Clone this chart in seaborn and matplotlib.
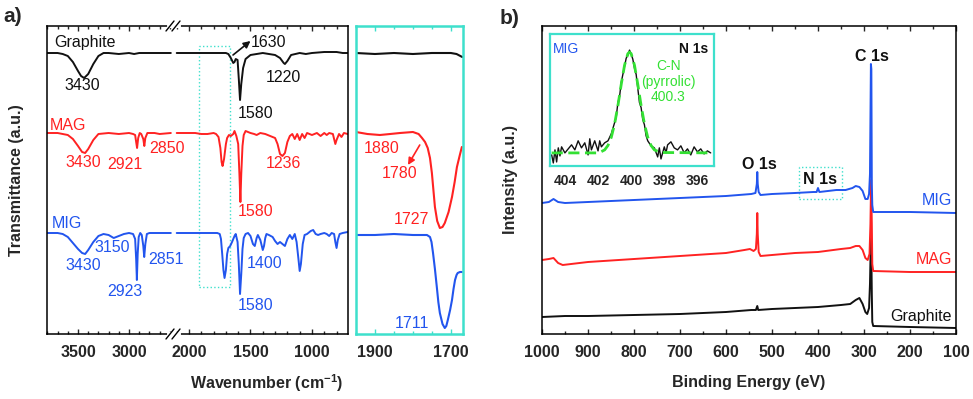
import matplotlib
matplotlib.use("Agg")
import matplotlib.pyplot as plt
import seaborn as sns
from matplotlib.lines import Line2D
from matplotlib.patches import Rectangle
from matplotlib.ticker import MultipleLocator, FixedLocator

# ---------------- FTIR (panel a), wavenumber in cm-1, offset transmittance (a.u.) ----------------
# left segment of the broken axis (3800-2560)
graphite_l_wn = [3800, 3700, 3650, 3600, 3550, 3500, 3470, 3440, 3400, 3350, 3300, 3250, 3200, 3100, 3000, 2950, 2900, 2800, 2700, 2590]
graphite_l_t = [281, 281, 280, 278, 272, 263, 258, 256, 260, 270, 278, 281, 281, 280, 281, 280, 281, 281, 281, 281]
mag_l_wn = [3800, 3700, 3650, 3600, 3550, 3500, 3460, 3430, 3400, 3350, 3300, 3200, 3100, 3000, 2960, 2940, 2930, 2921, 2910, 2895, 2880, 2860, 2850, 2840, 2820, 2750, 2700, 2590]
mag_l_t = [201, 201, 200, 199, 195, 188, 182, 181, 185, 194, 200, 201, 200, 201, 200, 199, 192, 186, 196, 201, 200, 195, 188, 196, 201, 201, 200, 201]
mig_l_wn = [3800, 3700, 3650, 3600, 3550, 3500, 3460, 3430, 3400, 3350, 3300, 3250, 3200, 3150, 3100, 3050, 3000, 2960, 2940, 2930, 2923, 2915, 2905, 2890, 2875, 2860, 2851, 2840, 2825, 2800, 2700, 2590]
mig_l_t = [101, 101, 100, 97, 91, 85, 81, 80, 84, 92, 98, 100, 99, 96, 98, 100, 101, 100, 95, 75, 54, 80, 97, 101, 99, 88, 77, 90, 100, 101, 101, 101]

# right segment of the broken axis (2100-710)
graphite_r_wn = [2100, 2000, 1900, 1800, 1700, 1680, 1660, 1640, 1630, 1620, 1605, 1595, 1585, 1575, 1560, 1540, 1500, 1450, 1400, 1350, 1300, 1260, 1230, 1220, 1200, 1170, 1100, 1050, 1000, 900, 800, 750, 710]
graphite_r_t = [281, 281, 281, 281, 281, 280, 276, 271, 272, 275, 274, 255, 234, 250, 266, 275, 279, 280, 281, 280, 279, 276, 271, 270, 273, 279, 281, 280, 281, 282, 282, 281, 281]
mag_r_wn = [2100, 2000, 1950, 1900, 1850, 1800, 1780, 1760, 1745, 1735, 1727, 1715, 1700, 1690, 1675, 1660, 1640, 1630, 1615, 1600, 1590, 1582, 1575, 1565, 1555, 1540, 1500, 1470, 1450, 1420, 1380, 1340, 1300, 1280, 1260, 1240, 1220, 1200, 1180, 1160, 1140, 1120, 1100, 1080, 1060, 1040, 1000, 960, 930, 900, 880, 860, 830, 810, 800, 780, 760, 740, 710]
mag_r_t = [201, 201, 201, 200, 200, 201, 200, 197, 186, 172, 168, 175, 190, 196, 199, 198, 200, 203, 198, 190, 160, 132, 160, 188, 199, 203, 201, 200, 199, 201, 200, 198, 196, 190, 180, 178, 181, 192, 198, 200, 195, 200, 194, 200, 196, 201, 199, 201, 198, 201, 199, 201, 200, 190, 194, 200, 197, 201, 200]
mig_r_wn = [2100, 2000, 1900, 1800, 1770, 1750, 1740, 1730, 1720, 1711, 1700, 1690, 1680, 1665, 1650, 1630, 1620, 1605, 1595, 1585, 1575, 1565, 1555, 1540, 1520, 1500, 1480, 1465, 1450, 1440, 1420, 1400, 1390, 1380, 1370, 1350, 1320, 1300, 1280, 1260, 1240, 1220, 1200, 1180, 1160, 1140, 1125, 1110, 1100, 1090, 1075, 1060, 1040, 1010, 990, 970, 950, 930, 900, 880, 860, 840, 820, 810, 800, 790, 775, 750, 710]
mig_r_t = [101, 101, 101, 101, 101, 100, 95, 80, 64, 56, 64, 80, 86, 88, 92, 98, 100, 92, 70, 40, 60, 85, 96, 100, 101, 98, 90, 88, 96, 99, 94, 84, 88, 96, 100, 99, 97, 93, 90, 92, 90, 88, 95, 99, 95, 100, 92, 75, 63, 70, 90, 99, 100, 103, 104, 100, 99, 100, 101, 100, 98, 101, 100, 92, 86, 94, 100, 101, 102]

# zoomed C=O region (1950-1668)
zoom_graphite_wn = [1950, 1900, 1850, 1800, 1750, 1700, 1685, 1675, 1670]
zoom_graphite_t = [281, 280, 281, 280, 281, 281, 280, 278, 277]
zoom_mag_wn = [1950, 1920, 1887, 1860, 1834, 1800, 1785, 1776, 1768, 1761, 1755, 1750, 1746, 1742, 1736, 1729, 1722, 1716, 1706, 1697, 1690, 1684, 1677, 1671]
zoom_mag_t = [202, 200, 199, 200, 201, 202, 200, 196, 192, 186, 176, 161, 144, 127, 113, 106, 107, 111, 122, 137, 152, 167, 178, 187]
zoom_mig_wn = [1950, 1900, 1850, 1800, 1780, 1763, 1755, 1751, 1747, 1742, 1737, 1733, 1729, 1722, 1716, 1712, 1708, 1702, 1697, 1693, 1689, 1685, 1682, 1676, 1671]
zoom_mig_t = [99, 99, 100, 99, 99, 99, 97, 92, 81, 65, 47, 32, 21, 10, 6, 8, 14, 24, 34, 45, 54, 59, 61, 62, 62]

# ---------------- XPS survey (panel b), binding energy in eV, offset intensity (a.u.) ----------------
mig_be = [1000, 985, 975, 965, 950, 900, 800, 700, 600, 545, 536, 533, 532, 531, 529, 525, 500, 450, 410, 403, 400, 397, 360, 340, 325, 318, 310, 303, 297, 292, 289, 287, 285, 284, 283, 282, 280, 250, 200, 100]
mig_int = [131, 132, 135, 132, 131, 132, 134, 136, 138, 140, 141, 150, 162, 150, 142, 139, 140, 141, 142, 142, 146, 142, 144, 144, 146, 148, 147, 143, 135, 135, 140, 160, 270, 265, 150, 129, 122, 122, 122, 121]
mag_be = [1000, 985, 975, 965, 955, 900, 800, 700, 600, 560, 548, 540, 535, 533, 532, 531, 529, 525, 500, 450, 400, 350, 330, 318, 310, 303, 297, 292, 288, 286, 284.5, 283, 282, 280, 200, 100]
mag_int = [74, 75, 76, 71, 69, 72, 75, 78, 81, 84, 85, 83, 85, 100, 121, 100, 82, 78, 79, 81, 82, 85, 86, 88, 88, 84, 76, 74, 80, 110, 154, 110, 70, 63, 62, 62]
graphite_be = [1000, 950, 900, 800, 700, 600, 545, 535, 532, 530, 500, 450, 400, 350, 330, 318, 310, 303, 297, 293, 289, 287, 285, 284, 283, 282, 280, 200, 100]
graphite_int = [17, 18, 18, 19, 20, 22, 24, 24, 28, 24, 25, 26, 27, 29, 30, 34, 36, 30, 22, 20, 26, 50, 97, 80, 40, 12, 8, 7, 6]

# N 1s high-resolution inset (MIG)
n1s_be = [404.8, 404.7, 404.6, 404.5, 404.4, 404.3, 404.2, 404.0, 403.8, 403.6, 403.4, 403.2, 403.0, 402.8, 402.6, 402.5, 402.4, 402.2, 402.0, 401.9, 401.8, 401.6, 401.4, 401.2, 401.0, 400.9, 400.8, 400.7, 400.6, 400.5, 400.4, 400.3, 400.2, 400.1, 400.0, 399.9, 399.8, 399.7, 399.6, 399.5, 399.4, 399.3, 399.2, 399.1, 399.0, 398.8, 398.6, 398.4, 398.3, 398.2, 398.0, 397.9, 397.8, 397.6, 397.4, 397.2, 397.0, 396.8, 396.6, 396.4, 396.2, 396.0, 395.8, 395.6, 395.4, 395.2]
n1s_int = [-0.02, -0.10, 0.03, -0.09, 0.05, -0.03, 0.06, 0.00, 0.04, 0.08, 0.03, 0.12, 0.05, 0.10, -0.02, 0.14, 0.03, 0.12, 0.02, 0.12, 0.06, 0.10, 0.12, 0.19, 0.30, 0.36, 0.50, 0.56, 0.70, 0.78, 0.86, 0.94, 0.97, 1.02, 0.98, 0.93, 0.84, 0.78, 0.64, 0.50, 0.45, 0.33, 0.28, 0.17, 0.12, 0.07, 0.05, -0.04, 0.05, -0.06, 0.06, 0.00, 0.08, 0.11, 0.05, 0.03, 0.07, 0.00, 0.04, -0.02, 0.06, 0.01, 0.04, -0.01, 0.02, 0.00]
n1s_fit_be = [404.8, 402.0, 401.9, 401.6, 401.4, 401.2, 401.0, 400.8, 400.6, 400.4, 400.2, 400.1, 400.0, 399.8, 399.6, 399.4, 399.2, 399.0, 398.8, 398.6, 398.2, 395.1]
n1s_fit_int = [0.0, 0.0, 0.004, 0.03, 0.074, 0.155, 0.288, 0.47, 0.68, 0.87, 0.985, 1.0, 0.985, 0.87, 0.68, 0.47, 0.288, 0.155, 0.074, 0.03, 0.004, 0.0]

BLACK = "#111111"
RED = "#ff2222"
BLUE = "#2255ee"
GREEN = "#33e033"
CYAN = "#3ee0cc"

sns.set_style("ticks")
plt.rcParams["font.family"] = ["Liberation Sans", "DejaVu Sans"]
plt.rcParams["mathtext.default"] = "regular"
plt.rcParams["xtick.direction"] = "in"
plt.rcParams["ytick.direction"] = "in"
plt.rcParams["axes.linewidth"] = 1.1
plt.rcParams["axes.edgecolor"] = "black"

W, H = 973, 399
fig = plt.figure(figsize=(W / 100, H / 100), dpi=100)


def box(x0, y0, x1, y1):
    # pixel box (top-left origin) -> figure fraction rect
    return [x0 / W, (H - y1) / H, (x1 - x0) / W, (y1 - y0) / H]


def trace(ax, x, y, color, lw=1.4, **kw):
    sns.lineplot(x=x, y=y, ax=ax, color=color, lw=lw, sort=False, estimator=None, legend=False, **kw)


def style_x(ax, major, minor, size=11.5, pad=8):
    ax.xaxis.set_major_locator(FixedLocator(major))
    ax.xaxis.set_minor_locator(MultipleLocator(minor))
    ax.set_yticks([])
    ax.tick_params(axis="x", which="both", top=True, bottom=True, width=1.0, pad=pad)
    ax.tick_params(axis="x", which="major", length=3.5)
    ax.tick_params(axis="x", which="minor", length=2.5)
    for lab in ax.get_xticklabels():
        lab.set_fontsize(size)
        lab.set_fontweight("bold")
    ax.set_xlabel("")
    ax.set_ylabel("")


ax_l = fig.add_axes(box(47, 26, 174, 334))
ax_r = fig.add_axes(box(174, 26, 348, 334))
ax_z = fig.add_axes(box(356, 26, 463, 334))
ax_b = fig.add_axes(box(542, 26, 956, 334))
ax_in = fig.add_axes(box(550, 34, 714, 166))
ax_r.patch.set_visible(False)

# ---- panel a, left segment ----
trace(ax_l, graphite_l_wn, graphite_l_t, BLACK)
trace(ax_l, mag_l_wn, mag_l_t, RED)
trace(ax_l, mig_l_wn, mig_l_t, BLUE)
ax_l.set_xlim(3804, 2559)
ax_l.set_ylim(0, 308)
style_x(ax_l, [3500, 3000], 100)
ax_l.spines["right"].set_visible(False)

# ---- panel a, right segment ----
trace(ax_r, graphite_r_wn, graphite_r_t, BLACK)
trace(ax_r, mag_r_wn, mag_r_t, RED)
trace(ax_r, mig_r_wn, mig_r_t, BLUE)
ax_r.set_xlim(2122, 707)
ax_r.set_ylim(0, 308)
style_x(ax_r, [2000, 1500, 1000], 100)
ax_r.spines["left"].set_visible(False)
ax_r.add_patch(Rectangle((1920, 47), 1667 - 1920, 241, fill=False, ec=CYAN, lw=1.0, ls=":"))

# ---- panel a, zoom ----
trace(ax_z, zoom_graphite_wn, zoom_graphite_t, BLACK, lw=1.5)
trace(ax_z, zoom_mag_wn, zoom_mag_t, RED, lw=1.5)
trace(ax_z, zoom_mig_wn, zoom_mig_t, BLUE, lw=1.5)
ax_z.set_xlim(1950, 1668)
ax_z.set_ylim(0, 308)
style_x(ax_z, [1900, 1700], 50)
ax_z.tick_params(axis="x", which="both", color=CYAN)
for s in ax_z.spines.values():
    s.set_color(CYAN)
    s.set_linewidth(1.8)

# break marks on the wavenumber axis
for yp in (26, 334):
    fy = (H - yp) / H
    fig.add_artist(Line2D([169 / W, 179 / W], [fy, fy], color="white", lw=3, transform=fig.transFigure))
    for xp in (170, 176):
        fig.add_artist(Line2D([(xp - 4) / W, (xp + 4) / W], [(H - yp - 5) / H, (H - yp + 5) / H],
                              color="black", lw=1.0, transform=fig.transFigure))

fa = dict(fontsize=11.5, ha="center", va="center")
ax_l.text(3735, 292, "Graphite", color=BLACK, fontsize=11.5, ha="left", va="center")
ax_l.text(3461, 248, "3430", color=BLACK, **fa)
ax_l.text(3775, 208, "MAG", color=RED, fontsize=11.5, ha="left", va="center")
ax_l.text(3451, 172, "3430", color=RED, **fa)
ax_l.text(3039, 170, "2921", color=RED, **fa)
ax_l.text(2627, 186, "2850", color=RED, clip_on=False, zorder=5, **fa)
ax_l.text(3755, 110, "MIG", color=BLUE, fontsize=11.5, ha="left", va="center")
ax_l.text(3167, 86, "3150", color=BLUE, **fa)
ax_l.text(3451, 69, "3430", color=BLUE, **fa)
ax_l.text(3039, 43, "2923", color=BLUE, **fa)
ax_l.text(2637, 74, "2851", color=BLUE, clip_on=False, zorder=5, **fa)

ax_r.text(1496, 292, "1630", color=BLACK, fontsize=11.5, ha="left", va="center")
ax_r.annotate("", xy=(1500, 293), xytext=(1642, 279),
              arrowprops=dict(arrowstyle="-|>", color=BLACK, lw=1.2, mutation_scale=10, shrinkA=0, shrinkB=0))
ax_r.text(1455, 221, "1580", color=BLACK, **fa)
ax_r.text(1236, 257, "1220", color=BLACK, **fa)
ax_r.text(1228, 171, "1236", color=RED, **fa)
ax_r.text(1455, 123, "1580", color=RED, **fa)
ax_r.text(1382, 71, "1400", color=BLUE, **fa)
ax_r.text(1455, 29, "1580", color=BLUE, **fa)

ax_z.text(1882, 186, "1880", color=RED, **fa)
ax_z.text(1834, 161, "1780", color=RED, **fa)
ax_z.annotate("", xy=(1813, 169), xytext=(1782, 189),
              arrowprops=dict(arrowstyle="-|>", color=RED, lw=1.2, mutation_scale=10, shrinkA=0, shrinkB=0))
ax_z.text(1803, 114, "1727", color=RED, **fa)
ax_z.text(1803, 11, "1711", color=BLUE, **fa)

fig.text(267 / W, (H - 383) / H, "Wavenumber (cm$^{-1}$)", fontsize=11.5, fontweight="bold", ha="center", va="center")
fig.text(17 / W, (H - 180) / H, "Transmittance (a.u.)", fontsize=11.5, fontweight="bold",
         rotation=90, ha="center", va="center")
fig.text(3 / W, (H - 17) / H, "a)", fontsize=15, fontweight="bold", ha="left", va="center")

# ---- panel b ----
trace(ax_b, graphite_be, graphite_int, BLACK)
trace(ax_b, mag_be, mag_int, RED)
trace(ax_b, mig_be, mig_int, BLUE)
ax_b.set_xlim(1000, 100)
ax_b.set_ylim(0, 308)
style_x(ax_b, list(range(1000, 99, -100)), 50)
ax_b.add_patch(Rectangle((441, 135), 348 - 441, 32, fill=False, ec=CYAN, lw=1.0, ls=":"))
ax_b.text(283, 278, "C 1s", color=BLACK, fontsize=11.5, fontweight="bold", ha="center", va="center")
ax_b.text(528, 170, "O 1s", color=BLACK, fontsize=11.5, fontweight="bold", ha="center", va="center")
ax_b.text(396, 155, "N 1s", color=BLACK, fontsize=11.5, fontweight="bold", ha="center", va="center")
ax_b.text(109, 134, "MIG", color=BLUE, fontsize=11.5, ha="right", va="center")
ax_b.text(109, 74, "MAG", color=RED, fontsize=11.5, ha="right", va="center")
ax_b.text(109, 17, "Graphite", color=BLACK, fontsize=11.5, ha="right", va="center")

fig.text(749 / W, (H - 383) / H, "Binding Energy (eV)", fontsize=11.5, fontweight="bold", ha="center", va="center")
fig.text(511 / W, (H - 180) / H, "Intensity (a.u.)", fontsize=11.5, fontweight="bold",
         rotation=90, ha="center", va="center")
fig.text(500 / W, (H - 18) / H, "b)", fontsize=15, fontweight="bold", ha="left", va="center")

# ---- N 1s inset ----
trace(ax_in, n1s_be, n1s_int, BLACK, lw=1.0)
trace(ax_in, n1s_fit_be, n1s_fit_int, GREEN, lw=2.0, dashes=(4, 2))
ax_in.set_xlim(404.9, 395.0)
ax_in.set_ylim(-0.13, 1.18)
ax_in.xaxis.set_major_locator(FixedLocator([404, 402, 400, 398, 396]))
ax_in.set_yticks([])
ax_in.tick_params(axis="x", which="both", length=0, pad=6)
for lab in ax_in.get_xticklabels():
    lab.set_fontsize(10)
    lab.set_fontweight("bold")
ax_in.set_xlabel("")
ax_in.set_ylabel("")
for s in ax_in.spines.values():
    s.set_color(CYAN)
    s.set_linewidth(1.6)
ax_in.text(0.02, 0.89, "MIG", transform=ax_in.transAxes, color=BLUE, fontsize=10, ha="left", va="center")
ax_in.text(0.965, 0.89, "N 1s", transform=ax_in.transAxes, color=BLACK, fontsize=10, fontweight="bold",
           ha="right", va="center")
ax_in.text(0.72, 0.64, "C-N\n(pyrrolic)\n400.3", transform=ax_in.transAxes, color=GREEN, fontsize=10,
           ha="center", va="center", linespacing=1.15)

fig.savefig("out.png", dpi=100)
